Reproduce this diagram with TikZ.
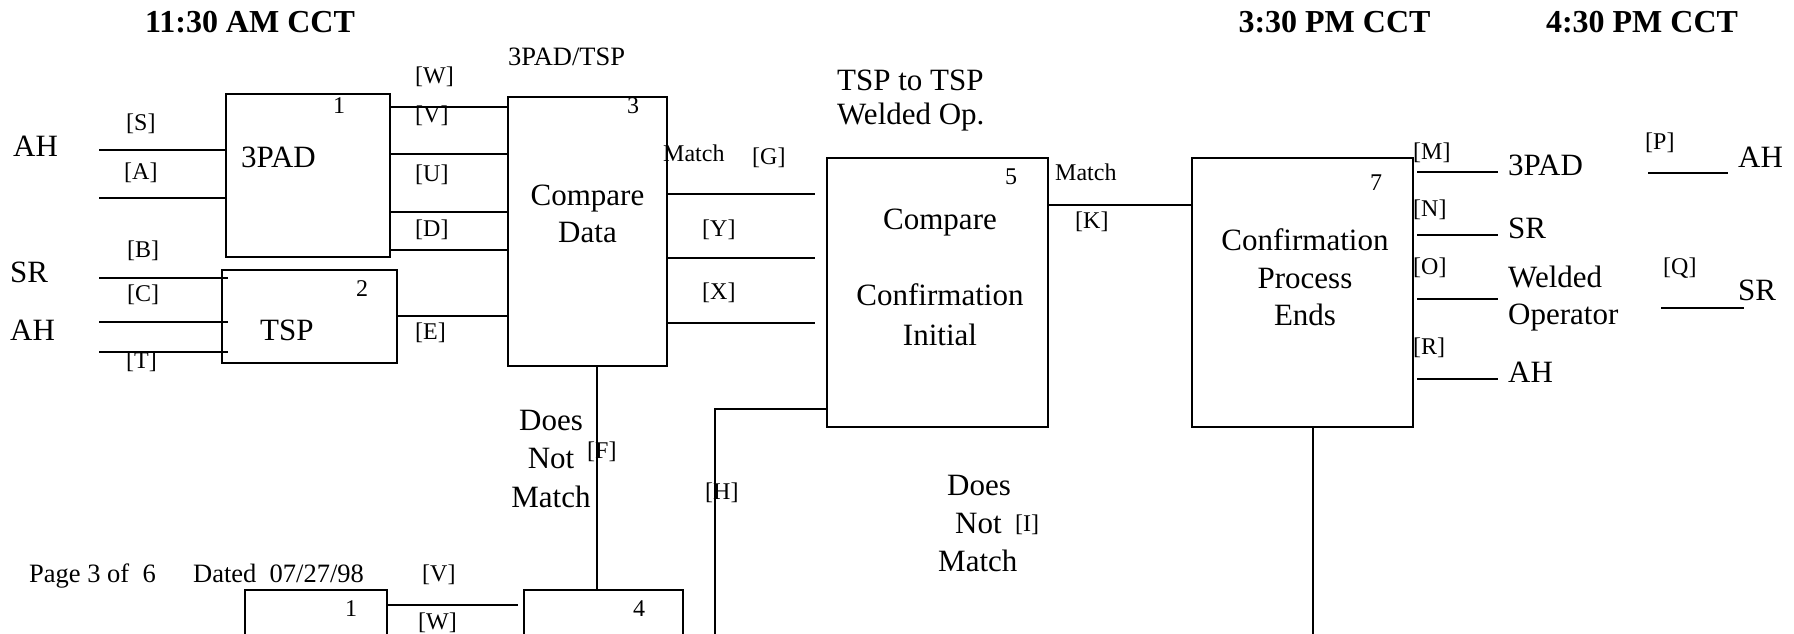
\documentclass[tikz,border=0pt]{standalone}
\usepackage{fontspec}
\setmainfont{Liberation Serif}
\begin{document}
\begin{tikzpicture}[x=1pt,y=-1pt,
  box/.style={draw, line width=2.6pt, rectangle, inner sep=0pt, outer sep=0pt},
  ln/.style={line width=2.4pt},
  big/.style={font=\fontsize{31}{37}\selectfont, inner sep=0pt},
  sml/.style={font=\fontsize{24}{28}\selectfont, inner sep=0pt},
  mid/.style={font=\fontsize{26.5}{31}\selectfont, inner sep=0pt},
  ttl/.style={font=\fontsize{32}{38}\selectfont\bfseries, inner sep=0pt}]
\useasboundingbox (0,0) rectangle (1794,634);
\clip (0,0) rectangle (1794,634);

% titles
\node[ttl,anchor=base] (t1) at (250,33) {11:30 AM CCT};
\node[ttl,anchor=base] (t2) at (1334.5,33) {3:30 PM CCT};
\node[ttl,anchor=base] (t3) at (1642,33) {4:30 PM CCT};

% boxes
\node[box, minimum width=164, minimum height=163] (b1) at (308,175.5) {};
\node[box, minimum width=175, minimum height=93] (b2) at (309.5,316.5) {};
\node[box, minimum width=159, minimum height=269] (b3) at (587.5,231.5) {};
\node[box, minimum width=221, minimum height=269] (b5) at (937.5,292.5) {};
\node[box, minimum width=221, minimum height=269] (b7) at (1302.5,292.5) {};
\node[box, minimum width=142, minimum height=100] (bb1) at (316,640) {};
\node[box, minimum width=159, minimum height=100] (b4) at (603.5,640) {};

% box texts
\node[sml,anchor=base west] (n1) at (333,113) {1};
\node[big,anchor=base west] (l3pad) at (241,167) {3PAD};
\node[sml,anchor=base west] (n2) at (356,296) {2};
\node[big,anchor=base west] (ltsp) at (260,340) {TSP};
\node[sml,anchor=base west] (n3) at (627,113) {3};
\node[big,anchor=base] (cmp1) at (587.5,205) {Compare};
\node[big,anchor=base] (dat1) at (587.5,242) {Data};
\node[mid,anchor=base west] (hdr3) at (508,66) {3PAD/TSP};
\node[sml,anchor=base west] (n5) at (1005,184) {5};
\node[big,anchor=base] (c5a) at (940,229) {Compare};
\node[big,anchor=base] (c5b) at (940,305) {Confirmation};
\node[big,anchor=base] (c5c) at (940,345) {Initial};
\node[big,anchor=base west] (hdr5a) at (837,90) {TSP to TSP};
\node[big,anchor=base west] (hdr5b) at (837,124) {Welded Op.};
\node[sml,anchor=base west] (n7) at (1370,190) {7};
\node[big,anchor=base] (c7a) at (1305,250) {Confirmation};
\node[big,anchor=base] (c7b) at (1305,288) {Process};
\node[big,anchor=base] (c7c) at (1305,325) {Ends};
\node[sml,anchor=base west] (nb1) at (345,616) {1};
\node[sml,anchor=base west] (n4) at (633,616) {4};

% left inputs
\node[big,anchor=base west] (ah1) at (13,156) {AH};
\node[big,anchor=base west] (sr1) at (10,282) {SR};
\node[big,anchor=base west] (ah2) at (10,340) {AH};
\coordinate (s0) at (99,150);
\coordinate (a0) at (99,198);
\coordinate (bq0) at (99,278);
\coordinate (c0) at (99,322);
\coordinate (tq0) at (99,352);
\draw[ln] (s0) -- (s0 -| b1.west);
\draw[ln] (a0) -- (a0 -| b1.west);
\draw[ln] (bq0) -- ([xshift=6pt]bq0 -| b2.west);
\draw[ln] (c0) -- ([xshift=6pt]c0 -| b2.west);
\draw[ln] (tq0) -- ([xshift=6pt]tq0 -| b2.west);
\node[sml,anchor=base west] (ls) at (126,130) {[S]};
\node[sml,anchor=base west] (la) at (124,179) {[A]};
\node[sml,anchor=base west] (lb) at (127,257) {[B]};
\node[sml,anchor=base west] (lc) at (127,301) {[C]};
\node[sml,anchor=base west] (lt) at (126,368) {[T]};

% box1 / box2 -> box3
\draw[ln] (b1.east |- 0,107) -- (b3.west |- 0,107);
\draw[ln] (b1.east |- 0,154) -- (b3.west |- 0,154);
\draw[ln] (b1.east |- 0,212) -- (b3.west |- 0,212);
\draw[ln] (b1.east |- 0,250) -- (b3.west |- 0,250);
\draw[ln] (b2.east |- 0,316) -- (b3.west |- 0,316);
\node[sml,anchor=base west] (lw) at (415,84) {[W]};
\node[sml,anchor=base west] (lv) at (415,122) {[V]};
\node[sml,anchor=base west] (lu) at (415,181) {[U]};
\node[sml,anchor=base west] (ld) at (415,236) {[D]};
\node[sml,anchor=base west] (le) at (415,339) {[E]};

% box3 -> box5
\coordinate (g1) at (815,194);
\coordinate (y1) at (815,258);
\coordinate (x1) at (815,323);
\draw[ln] (b3.east |- g1) -- (g1);
\draw[ln] (b3.east |- y1) -- (y1);
\draw[ln] (b3.east |- x1) -- (x1);
\node[sml,anchor=base west] (m3) at (663,161) {Match};
\node[sml,anchor=base west] (lg) at (752,164) {[G]};
\node[sml,anchor=base west] (ly) at (702,236) {[Y]};
\node[sml,anchor=base west] (lx) at (702,299) {[X]};

% box3 -> box4 (does not match)
\draw[ln] (b3.south -| 597,0) -- (b4.north -| 597,0);
\node[big,anchor=base] (dn1) at (551,430) {Does};
\node[big,anchor=base] (dn2) at (551,468) {Not};
\node[big,anchor=base] (dn3) at (551,507) {Match};
\node[sml,anchor=base west] (lf) at (587,458) {[F]};

% bottom box1 -> box4
\coordinate (bw1) at (518,605);
\draw[ln] (bb1.east |- bw1) -- (bw1);
\node[sml,anchor=base west] (lv2) at (422,581) {[V]};
\node[sml,anchor=base west] (lw2) at (418,629) {[W]};
\node[mid,anchor=base west] (pg) at (29,582) {Page 3 of\ \ 6};
\node[mid,anchor=base west] (dt) at (193,582) {Dated\ \ 07/27/98};

% box5 -> H
\coordinate (h1) at (715,660);
\draw[ln] (b5.west |- 0,409) -| (h1);
\node[sml,anchor=base west] (lh) at (705,499) {[H]};

% box5 -> box7
\draw[ln] (b5.east |- 0,205) -- (b7.west |- 0,205);
\node[sml,anchor=base west] (m5) at (1055,180) {Match};
\node[sml,anchor=base west] (lk) at (1075,228) {[K]};

% does not match (I)
\node[big,anchor=base west] (dm1) at (947,495) {Does};
\node[big,anchor=base west] (dm2) at (955,533) {Not};
\node[sml,anchor=base west] (li) at (1015,531) {[I]};
\node[big,anchor=base west] (dm3) at (938,571) {Match};

% box7 down
\coordinate (d7) at (1313,660);
\draw[ln] (b7.south -| d7) -- (d7);

% box7 outputs
\coordinate (mo0) at (1417,172); \coordinate (mo1) at (1498,172);
\coordinate (no0) at (1417,235); \coordinate (no1) at (1498,235);
\coordinate (oo0) at (1417,299); \coordinate (oo1) at (1498,299);
\coordinate (ro0) at (1417,379); \coordinate (ro1) at (1498,379);
\draw[ln] (mo0) -- (mo1);
\draw[ln] (no0) -- (no1);
\draw[ln] (oo0) -- (oo1);
\draw[ln] (ro0) -- (ro1);
\node[sml,anchor=base west] (lm) at (1413,159) {[M]};
\node[sml,anchor=base west] (lnn) at (1413,216) {[N]};
\node[sml,anchor=base west] (lo) at (1413,274) {[O]};
\node[sml,anchor=base west] (lr) at (1413,354) {[R]};
\node[big,anchor=base west] (o3pad) at (1508,175) {3PAD};
\node[big,anchor=base west] (osr) at (1508,238) {SR};
\node[big,anchor=base west] (owe) at (1508,287) {Welded};
\node[big,anchor=base west] (oop) at (1508,324) {Operator};
\node[big,anchor=base west] (oah) at (1508,382) {AH};

% far right
\coordinate (p0) at (1648,173); \coordinate (p1) at (1728,173);
\coordinate (q0) at (1661,308); \coordinate (q1) at (1744,308);
\draw[ln] (p0) -- (p1);
\draw[ln] (q0) -- (q1);
\node[sml,anchor=base west] (lp) at (1645,149) {[P]};
\node[sml,anchor=base west] (lq) at (1663,274) {[Q]};
\node[big,anchor=base west] (fah) at (1738,167) {AH};
\node[big,anchor=base west] (fsr) at (1738,300) {SR};
\end{tikzpicture}
\end{document}
